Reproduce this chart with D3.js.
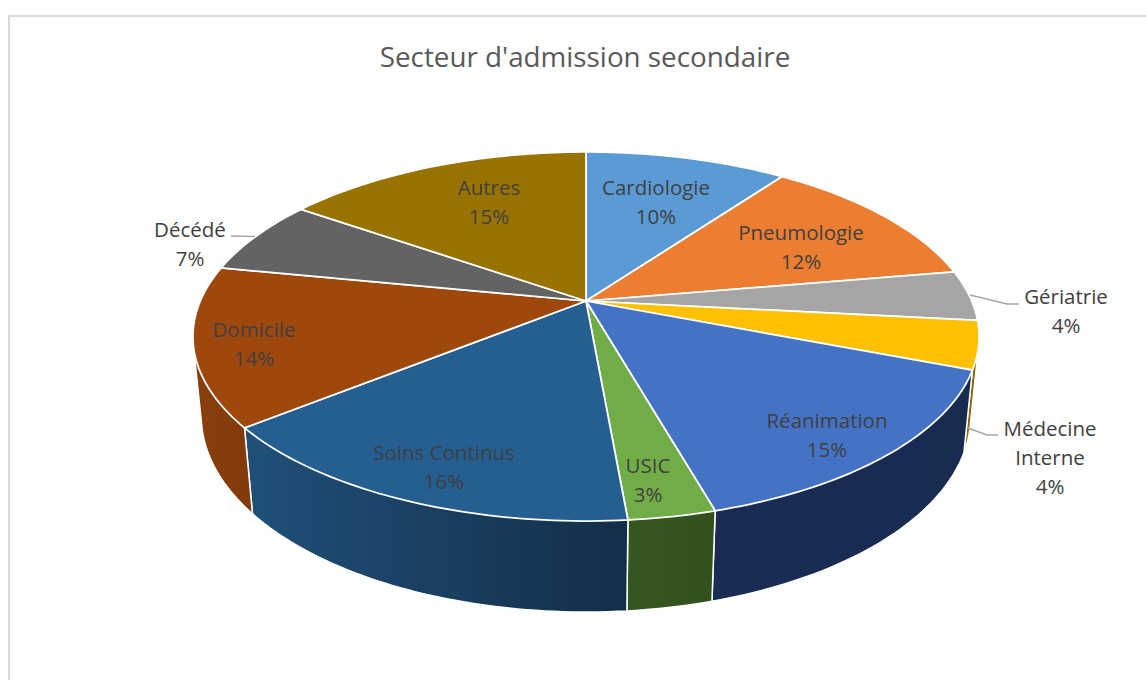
<!DOCTYPE html>
<html>
<head>
<meta charset="utf-8">
<script src="https://d3js.org/d3.v7.min.js"></script>
<style>
    html, body { margin: 0; padding: 0; background: #fff; overflow: hidden; }
    text { font-family: "Open Sans", sans-serif; fill: #404040; text-anchor: middle; }
</style>
</head>
<body>
<script>
    // shares (%), the labels show them rounded
    var categories = ["Cardiologie", "Pneumologie", "Gériatrie", "Médecine Interne", "Réanimation",
        "USIC", "Soins Continus", "Domicile", "Décédé", "Autres"];
    var values = [10, 12.3, 4.4, 4.2, 14.7, 3, 15.6, 13.9, 6.6, 15.3];
    var topColors = ["#5b9bd5", "#ed7d31", "#a5a5a5", "#ffc000", "#4472c4",
        "#70ad47", "#255e91", "#9e480e", "#636363", "#997300"];
    var wallStart = ["#335a80", "#8a4a1d", "#636363", "#8a6c10", "#1a2c54",
        "#375720", "#205079", "#8a3f0d", "#3b3b3b", "#5c4500"];
    var wallEnd = ["#335a80", "#8a4a1d", "#636363", "#7f6000", "#182a50",
        "#33501d", "#122e49", "#813a0a", "#3b3b3b", "#5c4500"];

    var title = "Secteur d'admission secondaire";

    // label layout, one row per category: lines of the name, centre x, centre y of first line
    var labelLines = [["Cardiologie"], ["Pneumologie"], ["Gériatrie"], ["Médecine", "Interne"], ["Réanimation"],
        ["USIC"], ["Soins Continus"], ["Domicile"], ["Décédé"], ["Autres"]];
    var labelX = [656, 801, 1066, 1050, 827, 648, 444, 254, 190, 489];
    var labelY = [188, 233, 297, 429, 421, 466, 453, 330, 230, 188];
    var leaders = [
        [[970, 295], [1007, 304], [1019, 304]],
        [[968, 428], [987, 435], [998, 435]],
        [[231, 236], [255, 236.5]]
    ];

    var width = 1146, height = 680;

    // perspective of the disc, tilted away from the viewer
    var cx = 586, cy = 301;
    var f = 385.7, g = 177.7, k = 0.1924;
    var depth = 80, shrink = 0.021;

    function top3d(a) {
        var x = Math.sin(a), y = Math.cos(a), d = 1 + k * y;
        return [cx + f * x / d, cy - g * y / d];
    }
    function bottom3d(a) {
        var x = Math.sin(a), y = Math.cos(a), d = 1 + k * y + shrink;
        return [cx + f * x / d, cy + (depth - g * y) / d];
    }

    var svg = d3.select("body").append("svg")
        .attr("width", width)
        .attr("height", height);

    svg.append("rect")
        .attr("x", 9).attr("y", 16)
        .attr("width", width + 20).attr("height", height + 20)
        .style("fill", "#fff")
        .style("stroke", "#d9d9d9")
        .style("stroke-width", 2);

    svg.append("text")
        .attr("x", 585).attr("y", 67)
        .style("font-size", "27.8px")
        .style("fill", "#595959")
        .text(title);

    var pie = d3.pie().sort(null).value(function (d) { return d; });
    var arcs = pie(values);
    var line = d3.line();

    function samples(d) {
        var n = Math.max(2, Math.ceil((d.endAngle - d.startAngle) / 0.02));
        return d3.range(n + 1).map(function (i) {
            return d.startAngle + (d.endAngle - d.startAngle) * i / n;
        });
    }

    var defs = svg.append("defs");
    var grads = defs.selectAll("linearGradient")
        .data(arcs)
        .enter().append("linearGradient")
        .attr("id", function (d, i) { return "wall" + i; });
    grads.append("stop").attr("offset", "0%").attr("stop-color", function (d, i) { return wallStart[i]; });
    grads.append("stop").attr("offset", "100%").attr("stop-color", function (d, i) { return wallEnd[i]; });

    // walls first, the top faces paint over whatever is behind
    // hull so the straight edge at the left and right silhouette gets filled too
    svg.append("g").selectAll("path")
        .data(arcs)
        .enter().append("path")
        .attr("d", function (d) {
            var s = samples(d);
            return line(d3.polygonHull(s.map(top3d).concat(s.map(bottom3d)))) + "Z";
        })
        .style("fill", function (d, i) { return "url(#wall" + i + ")"; })
        .style("stroke", "#fff")
        .style("stroke-width", 1.5)
        .style("stroke-linejoin", "round");

    svg.append("g").selectAll("path")
        .data(arcs)
        .enter().append("path")
        .attr("d", function (d) {
            return line([[cx, cy]].concat(samples(d).map(top3d))) + "Z";
        })
        .style("fill", function (d, i) { return topColors[i]; })
        .style("stroke", "#fff")
        .style("stroke-width", 1.75)
        .style("stroke-linejoin", "round");

    svg.append("g").selectAll("path")
        .data(leaders)
        .enter().append("path")
        .attr("d", line)
        .style("fill", "none")
        .style("stroke", "#a6a6a6")
        .style("stroke-width", 1.5);

    var labels = svg.append("g").selectAll("text")
        .data(categories)
        .enter().append("text")
        .attr("y", function (d, i) { return labelY[i] + 7; })
        .style("font-size", "20.5px");

    labels.each(function (d, i) {
        var rows = labelLines[i].concat([Math.round(values[i]) + "%"]);
        d3.select(this).selectAll("tspan")
            .data(rows)
            .enter().append("tspan")
            .attr("x", labelX[i])
            .attr("dy", function (r, j) { return j ? 29 : 0; })
            .text(function (r) { return r; });
    });
</script>
</body>
</html>
